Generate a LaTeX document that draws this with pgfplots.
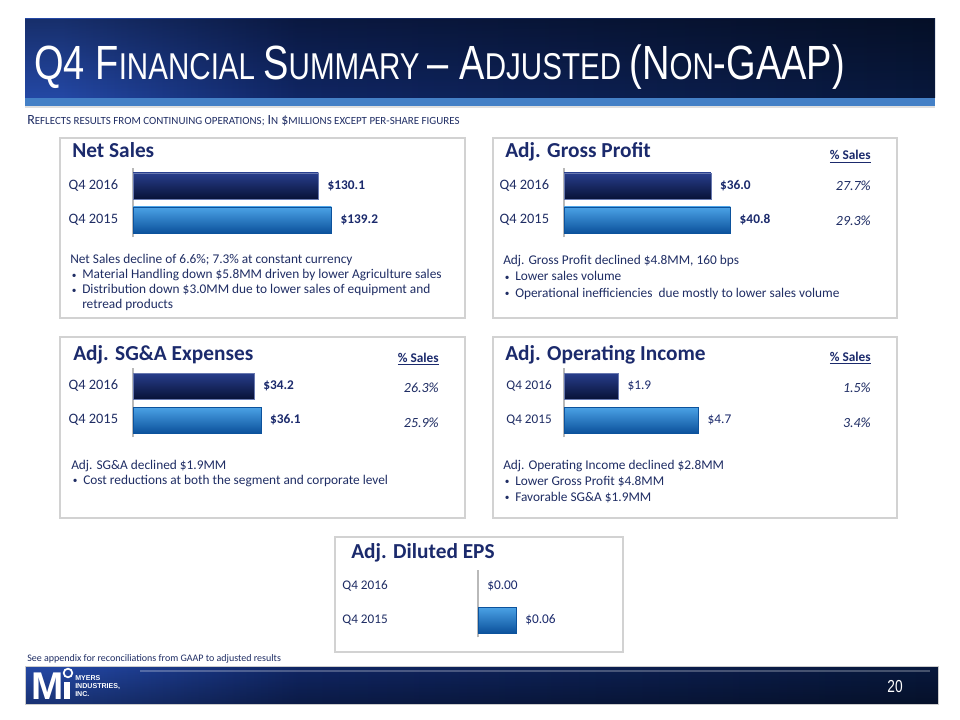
\documentclass[border=0pt]{standalone}
\usepackage{pgfplots}
\pgfplotsset{compat=1.18}
\usetikzlibrary{fadings}
\usepackage{fontspec}
\setmainfont{Carlito}
\newfontfamily\titlefont[FakeStretch=0.792]{Liberation Sans}
\newfontfamily\logofont{Liberation Sans}
\definecolor{navy}{RGB}{27,42,108}
\definecolor{txt}{RGB}{31,45,100}
\definecolor{dkA}{RGB}{40,62,140}
\definecolor{dkB}{RGB}{16,32,88}
\definecolor{dkC}{RGB}{8,18,55}
\definecolor{blA}{RGB}{75,162,230}
\definecolor{blB}{RGB}{24,118,204}
\definecolor{blC}{RGB}{12,82,156}
\definecolor{hdrA}{RGB}{36,72,165}
\definecolor{hdrB}{RGB}{16,38,100}
\definecolor{hdrC}{RGB}{8,24,60}
\definecolor{strip}{RGB}{68,128,198}
\definecolor{boxgray}{RGB}{210,210,210}
\pgfdeclarehorizontalshading{hdrshade}{100bp}{color(0bp)=(hdrA); color(27bp)=(hdrA); color(40bp)=(hdrB); color(75bp)=(hdrC); color(100bp)=(hdrC)}
\newcommand\bigc[1]{{\fontsize{36}{36}\selectfont #1}}
\newcommand\smc[1]{{\fontsize{28}{28}\selectfont #1}}
\newcommand\sbig[1]{{\fontsize{10.5}{12}\selectfont #1}}
\newcommand\ssm[1]{{\fontsize{8.2}{12}\selectfont #1}}
\newcommand\bul{\makebox[9pt][l]{\hspace{1.2pt}\raisebox{0.6pt}{\fontsize{7}{7}\selectfont •}}}
\pgfplotsset{
  panel/.style={
    xbar, bar shift=0pt, bar width=19.5pt,
    anchor=origin, y=25.5pt, ymin=-0.5, ymax=1.52, xmin=0,
    axis x line=none, axis y line*=left,
    y axis line style={draw=gray!55, line width=0.9pt},
    ytick={0,1}, yticklabels={Q4 2015,Q4 2016},
    major tick length=0pt,
    yticklabel style={font=\fontsize{10.8}{12}\selectfont, text=txt, inner sep=0pt, xshift=-11pt},
    clip=false, point meta=x,
    every node near coord/.append style={text=navy, anchor=west, inner sep=0pt, xshift=6.75pt},
  },
  boldval/.style={
    nodes near coords={\$\pgfmathprintnumber[fixed,fixed zerofill,precision=#1,assume math mode=true]{\pgfplotspointmeta}},
    every node near coord/.append style={font=\bfseries\fontsize{10}{12}\selectfont},
  },
  plainval/.style={
    nodes near coords={\$\pgfmathprintnumber[fixed,fixed zerofill,precision=#1,assume math mode=true]{\pgfplotspointmeta}},
    every node near coord/.append style={font=\fontsize{10}{12}\selectfont},
  },
  darkbar/.style={draw=dkA!70!white, line width=0.4pt, top color=dkA, middle color=dkB, bottom color=dkC},
  bluebar/.style={draw=blC, line width=0.4pt, top color=blA, middle color=blB, bottom color=blC},
}
\begin{document}
\begin{tikzpicture}[x=0.75pt,y=-0.75pt]
\fill[white] (0,0) rectangle (960,720);
% header
\shade[shading=hdrshade] (25,19) rectangle (935,98);
\fill[black, opacity=0.35, path fading=south] (25,19) rectangle (935,98);
\fill[strip] (25,98) rectangle (935,106);
\fill[gray!25] (25,106) rectangle (935,108);
\node[anchor=base west, text=white, font=\titlefont, inner sep=0pt] at (34,80)
  {\bigc{Q4 F}\smc{INANCIAL }\bigc{S}\smc{UMMARY }\bigc{– A}\smc{DJUSTED }\bigc{(N}\smc{ON}\bigc{-GAAP)}};
\node[anchor=base west, text=txt, inner sep=0pt] at (27,125)
  {\sbig{R}\ssm{EFLECTS RESULTS FROM CONTINUING OPERATIONS;} \sbig{I}\ssm{N} \sbig{\$}\ssm{MILLIONS EXCEPT PER-SHARE FIGURES}};
% panel boxes
\draw[boxgray, line width=0.8pt] (60,138) rectangle (465,318);
\draw[boxgray, line width=0.8pt] (493,138) rectangle (897,318);
\draw[boxgray, line width=0.8pt] (60,337) rectangle (465,518);
\draw[boxgray, line width=0.8pt] (493,337) rectangle (897,518);
\draw[boxgray, line width=0.8pt] (335,537) rectangle (623,652);
% anchor points
\coordinate (ns) at (133,220);
\coordinate (gp) at (564,220);
\coordinate (sg) at (133,420);
\coordinate (oi) at (564,420);
\coordinate (ep) at (478,620);
% ---------- Net Sales
\node[anchor=base west, text=navy, font=\bfseries\fontsize{16}{18}\selectfont, inner sep=0pt] at (72,158) {Net Sales};
\begin{axis}[panel, boldval=1, at={(ns)}, x=1.069pt, xmax=190]
\addplot[darkbar] coordinates {(130.1,1)};
\addplot[bluebar] coordinates {(139.2,0)};
\end{axis}
\begin{scope}[every node/.style={anchor=base west, text=txt, font=\fontsize{10}{12}\selectfont, inner sep=0pt}]
\node at (70,264) {Net Sales decline of 6.6\%; 7.3\% at constant currency};
\node at (70,279) {\bul Material Handling down \$5.8MM driven by lower Agriculture sales};
\node at (70,294) {\bul Distribution down \$3.0MM due to lower sales of equipment and};
\node at (82,309) {retread products};
\end{scope}
% ---------- Gross Profit
\node[anchor=base west, text=navy, font=\bfseries\fontsize{16}{18}\selectfont, inner sep=0pt] at (505,158) {Adj. Gross Profit};
\node[anchor=base east, text=navy, font=\bfseries\fontsize{10}{12}\selectfont, inner sep=0pt] at (871,160) {\underline{\% Sales}};
\node[anchor=base east, text=txt, font=\itshape\fontsize{10.5}{12}\selectfont, inner sep=0pt] at (871,191) {27.7\%};
\node[anchor=base east, text=txt, font=\itshape\fontsize{10.5}{12}\selectfont, inner sep=0pt] at (871,226) {29.3\%};
\begin{axis}[panel, boldval=1, at={(gp)}, x=3.06pt, xmax=50]
\addplot[darkbar] coordinates {(36.0,1)};
\addplot[bluebar] coordinates {(40.8,0)};
\end{axis}
\begin{scope}[every node/.style={anchor=base west, text=txt, font=\fontsize{10}{12}\selectfont, inner sep=0pt}]
\node at (503,265) {Adj. Gross Profit declined \$4.8MM, 160 bps};
\node at (503,281) {\bul Lower sales volume};
\node at (503,297) {\bul Operational inefficiencies\ \ due mostly to lower sales volume};
\end{scope}
% ---------- SG&A
\node[anchor=base west, text=navy, font=\bfseries\fontsize{16}{18}\selectfont, inner sep=0pt] at (73,360) {Adj. SG\&A Expenses};
\node[anchor=base east, text=navy, font=\bfseries\fontsize{10}{12}\selectfont, inner sep=0pt] at (439,362) {\underline{\% Sales}};
\node[anchor=base east, text=txt, font=\itshape\fontsize{10.5}{12}\selectfont, inner sep=0pt] at (439,392) {26.3\%};
\node[anchor=base east, text=txt, font=\itshape\fontsize{10.5}{12}\selectfont, inner sep=0pt] at (439,427) {25.9\%};
\begin{axis}[panel, boldval=1, at={(sg)}, x=2.655pt, xmax=50]
\addplot[darkbar] coordinates {(34.2,1)};
\addplot[bluebar] coordinates {(36.1,0)};
\end{axis}
\begin{scope}[every node/.style={anchor=base west, text=txt, font=\fontsize{10}{12}\selectfont, inner sep=0pt}]
\node at (71,469) {Adj. SG\&A declined \$1.9MM};
\node at (71,484) {\bul Cost reductions at both the segment and corporate level};
\end{scope}
% ---------- Operating Income
\node[anchor=base west, text=navy, font=\bfseries\fontsize{16}{18}\selectfont, inner sep=0pt] at (505,360) {Adj. Operating Income};
\node[anchor=base east, text=navy, font=\bfseries\fontsize{10}{12}\selectfont, inner sep=0pt] at (871,361) {\underline{\% Sales}};
\node[anchor=base east, text=txt, font=\itshape\fontsize{10.5}{12}\selectfont, inner sep=0pt] at (871,392) {1.5\%};
\node[anchor=base east, text=txt, font=\itshape\fontsize{10.5}{12}\selectfont, inner sep=0pt] at (871,427) {3.4\%};
\begin{axis}[panel, plainval=1, at={(oi)}, x=21.45pt, xmax=6,
  yticklabel style={font=\fontsize{9.9}{12}\selectfont, xshift=2pt}]
\addplot[darkbar] coordinates {(1.9,1)};
\addplot[bluebar] coordinates {(4.7,0)};
\end{axis}
\begin{scope}[every node/.style={anchor=base west, text=txt, font=\fontsize{10}{12}\selectfont, inner sep=0pt}]
\node at (503,469) {Adj. Operating Income declined \$2.8MM};
\node at (503,485) {\bul Lower Gross Profit \$4.8MM};
\node at (503,501) {\bul Favorable SG\&A \$1.9MM};
\end{scope}
% ---------- EPS
\node[anchor=base west, text=navy, font=\bfseries\fontsize{16}{18}\selectfont, inner sep=0pt] at (351,558) {Adj. Diluted EPS};
\begin{axis}[panel, plainval=2, at={(ep)}, x=475pt, xmax=0.08, ymin=-0.51, ymax=1.46,
  yticklabel style={font=\fontsize{9.9}{12}\selectfont, xshift=-56.5pt}]
\addplot[draw=none, fill=none] coordinates {(0.00,1)};
\addplot[bluebar] coordinates {(0.06,0)};
\end{axis}
% footer
\node[anchor=base west, text=txt, font=\fontsize{7.5}{9}\selectfont, inner sep=0pt] at (27,661) {See appendix for reconciliations from GAAP to adjusted results};
\shade[shading=hdrshade] (25,666) rectangle (938,704);
\fill[black, opacity=0.3, path fading=north] (25,666) rectangle (938,704);
\draw[gray!40, line width=0.6pt] (25,666) rectangle (938,704);
\draw[white, opacity=0.25, line width=0.8pt] (140,671) -- (930,671);
\node[anchor=base east, text=white, font=\titlefont\fontsize{13}{14}\selectfont, inner sep=0pt] at (903,692) {20};
% logo
\node[anchor=base west, text=white, font=\logofont\bfseries\fontsize{29}{30}\selectfont, inner sep=0pt] at (31,699) {M};
\draw[white, line width=1.3pt] (68,673) circle (4.3);
\fill[white] (64,682) rectangle (70,699);
\begin{scope}[every node/.style={anchor=base west, text=white, font=\logofont\bfseries\fontsize{5.3}{6}\selectfont, inner sep=0pt}]
\node at (75,680) {MYERS};
\node at (75,688) {INDUSTRIES,};
\node at (75,696) {INC.};
\end{scope}
\end{tikzpicture}
\end{document}
